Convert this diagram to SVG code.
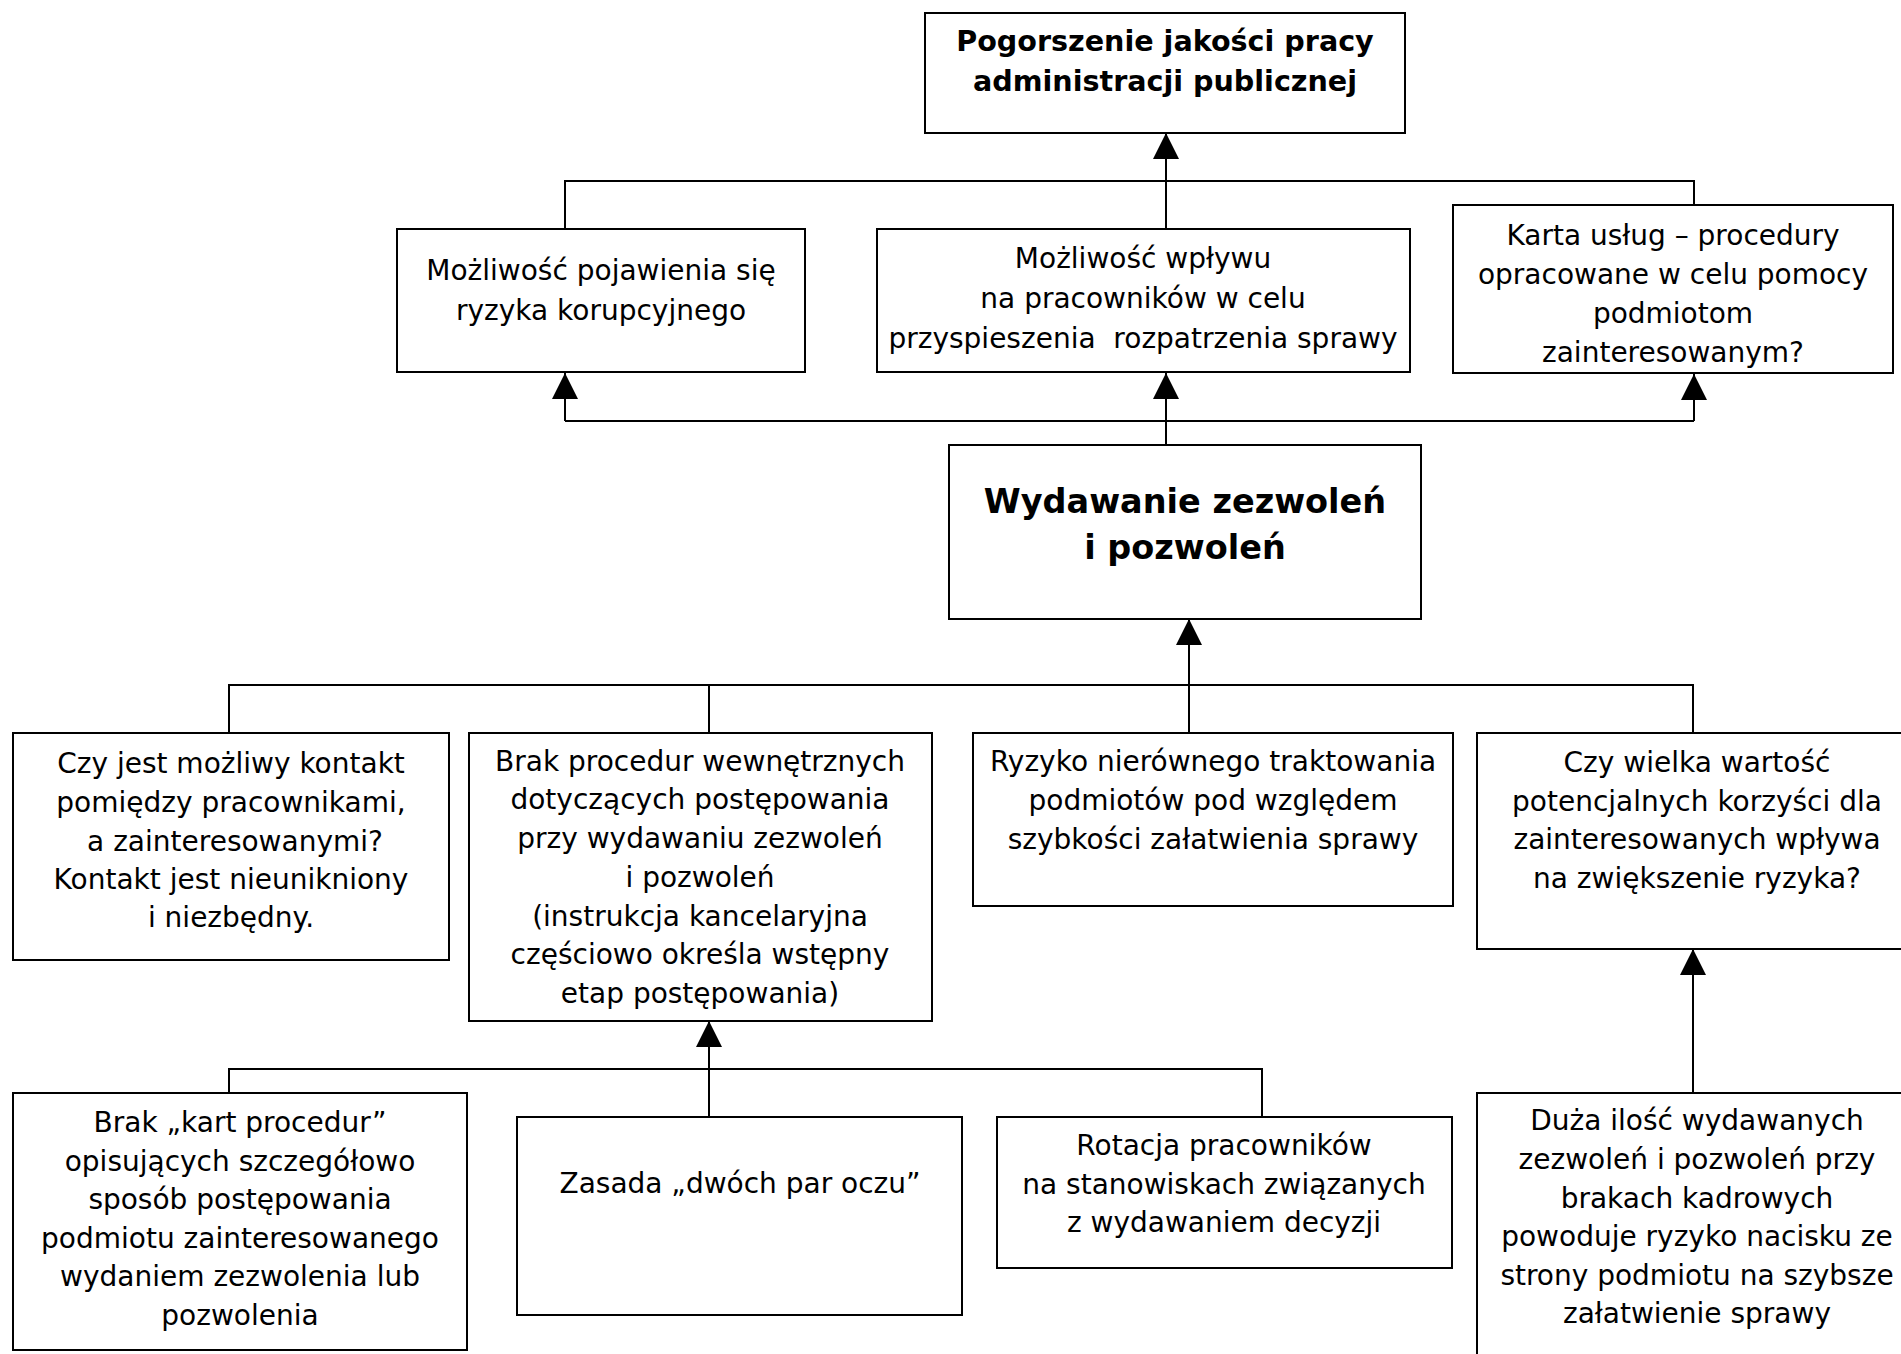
<svg xmlns="http://www.w3.org/2000/svg" width="1901" height="1354" viewBox="0 0 1901 1354">
<style>
.box{fill:#fff;stroke:#000;stroke-width:2}
.t{font-family:"DejaVu Sans",Verdana,sans-serif;font-size:28px;fill:#000;text-anchor:middle}
.b{font-family:"DejaVu Sans",Verdana,sans-serif;font-size:28.6px;font-weight:bold;fill:#000;text-anchor:middle}
.bb{font-family:"DejaVu Sans",Verdana,sans-serif;font-size:33.5px;font-weight:bold;fill:#000;text-anchor:middle}
.c{fill:none;stroke:#000;stroke-width:2}
</style>
<defs>
<marker id="arr" markerUnits="userSpaceOnUse" markerWidth="26" markerHeight="26" viewBox="0 0 26 26" refX="26" refY="13" orient="auto">
<path d="M0,0 L26,13 L0,26 z" fill="#000"/>
</marker>
</defs>
<rect width="1901" height="1354" fill="#fff"/>
<g id="connectors">
<path class="c" d="M565,229 V181 H1694 V205"/>
<path class="c" d="M1166,229 V181"/>
<path class="c" d="M1166,181 V133" marker-end="url(#arr)"/>
<path class="c" d="M1166,445 V421"/>
<path class="c" d="M565,421 H1694"/>
<path class="c" d="M565,421 V373" marker-end="url(#arr)"/>
<path class="c" d="M1166,421 V373" marker-end="url(#arr)"/>
<path class="c" d="M1694,421 V374" marker-end="url(#arr)"/>
<path class="c" d="M229,733 V685 H1693 V733"/>
<path class="c" d="M709,685 V733"/>
<path class="c" d="M1189,733 V685"/>
<path class="c" d="M1189,685 V619" marker-end="url(#arr)"/>
<path class="c" d="M229,1093 V1069 H1262 V1117"/>
<path class="c" d="M709,1117 V1021" marker-end="url(#arr)"/>
<path class="c" d="M1693,1093 V949" marker-end="url(#arr)"/>
</g>
<g id="n-top">
<rect class="box" x="925" y="13" width="480" height="120"/>
<text class="b"><tspan x="1165" y="51">Pogorszenie jakości pracy</tspan><tspan x="1165" y="91">administracji publicznej</tspan></text>
</g>
<g id="n-korupcja">
<rect class="box" x="397" y="229" width="408" height="143"/>
<text class="t"><tspan x="601" y="280">Możliwość pojawienia się</tspan><tspan x="601" y="320">ryzyka korupcyjnego</tspan></text>
</g>
<g id="n-wplyw">
<rect class="box" x="877" y="229" width="533" height="143"/>
<text class="t"><tspan x="1143" y="268">Możliwość wpływu</tspan><tspan x="1143" y="308">na pracowników w celu</tspan><tspan x="1143" y="348">przyspieszenia &#160;rozpatrzenia sprawy</tspan></text>
</g>
<g id="n-karta">
<rect class="box" x="1453" y="205" width="440" height="168"/>
<text class="t"><tspan x="1673" y="245">Karta usług – procedury</tspan><tspan x="1673" y="284">opracowane w celu pomocy</tspan><tspan x="1673" y="323">podmiotom</tspan><tspan x="1673" y="362">zainteresowanym?</tspan></text>
</g>
<g id="n-central">
<rect class="box" x="949" y="445" width="472" height="174"/>
<text class="bb"><tspan x="1185" y="513">Wydawanie zezwoleń</tspan><tspan x="1185" y="559">i pozwoleń</tspan></text>
</g>
<g id="n-kontakt">
<rect class="box" x="13" y="733" width="436" height="227"/>
<text class="t"><tspan x="231" y="773">Czy jest możliwy kontakt</tspan><tspan x="231" y="812">pomiędzy pracownikami,</tspan><tspan x="235" y="851">a zainteresowanymi?</tspan><tspan x="231" y="889">Kontakt jest nieunikniony</tspan><tspan x="231" y="927">i niezbędny.</tspan></text>
</g>
<g id="n-procedury">
<rect class="box" x="469" y="733" width="463" height="288"/>
<text class="t"><tspan x="700" y="771">Brak procedur wewnętrznych</tspan><tspan x="700" y="809">dotyczących postępowania</tspan><tspan x="700" y="848">przy wydawaniu zezwoleń</tspan><tspan x="700" y="887">i pozwoleń</tspan><tspan x="700" y="926">(instrukcja kancelaryjna</tspan><tspan x="700" y="964">częściowo określa wstępny</tspan><tspan x="700" y="1003">etap postępowania)</tspan></text>
</g>
<g id="n-nierowne">
<rect class="box" x="973" y="733" width="480" height="173"/>
<text class="t"><tspan x="1213" y="771">Ryzyko nierównego traktowania</tspan><tspan x="1213" y="810">podmiotów pod względem</tspan><tspan x="1213" y="849">szybkości załatwienia sprawy</tspan></text>
</g>
<g id="n-korzysci">
<rect class="box" x="1477" y="733" width="440" height="216"/>
<text class="t"><tspan x="1697" y="772">Czy wielka wartość</tspan><tspan x="1697" y="811">potencjalnych korzyści dla</tspan><tspan x="1697" y="849">zainteresowanych wpływa</tspan><tspan x="1697" y="888">na zwiększenie ryzyka?</tspan></text>
</g>
<g id="n-karty">
<rect class="box" x="13" y="1093" width="454" height="257"/>
<text class="t"><tspan x="240" y="1132">Brak „kart procedur”</tspan><tspan x="240" y="1171">opisujących szczegółowo</tspan><tspan x="240" y="1209">sposób postępowania</tspan><tspan x="240" y="1248">podmiotu zainteresowanego</tspan><tspan x="240" y="1286">wydaniem zezwolenia lub</tspan><tspan x="240" y="1325">pozwolenia</tspan></text>
</g>
<g id="n-zasada">
<rect class="box" x="517" y="1117" width="445" height="198"/>
<text class="t"><tspan x="740" y="1193">Zasada „dwóch par oczu”</tspan></text>
</g>
<g id="n-rotacja">
<rect class="box" x="997" y="1117" width="455" height="151"/>
<text class="t"><tspan x="1224" y="1155">Rotacja pracowników</tspan><tspan x="1224" y="1194">na stanowiskach związanych</tspan><tspan x="1224" y="1232">z wydawaniem decyzji</tspan></text>
</g>
<g id="n-ilosc">
<rect class="box" x="1477" y="1093" width="440" height="280"/>
<text class="t"><tspan x="1697" y="1130">Duża ilość wydawanych</tspan><tspan x="1697" y="1169">zezwoleń i pozwoleń przy</tspan><tspan x="1697" y="1208">brakach kadrowych</tspan><tspan x="1697" y="1246">powoduje ryzyko nacisku ze</tspan><tspan x="1697" y="1285">strony podmiotu na szybsze</tspan><tspan x="1697" y="1323">załatwienie sprawy</tspan></text>
</g>
</svg>
